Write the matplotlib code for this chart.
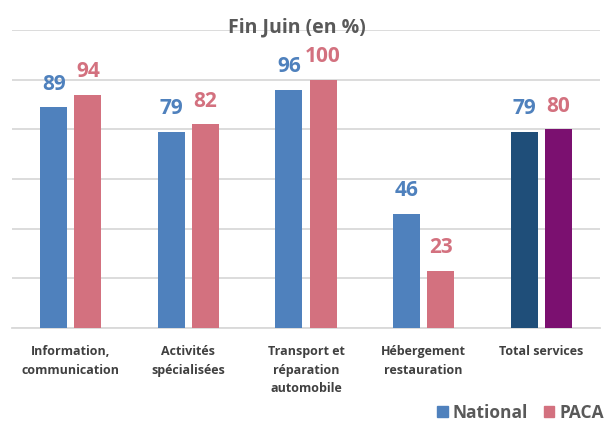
import matplotlib.pyplot as plt
import numpy as np

categories = ['Information,\ncommunication', 'Activités\nspécialisées',
              'Transport et\nréparation\nautomobile', 'Hébergement\nrestauration',
              'Total services']
national = [89, 79, 96, 46, 79]
paca = [94, 82, 100, 23, 80]

plt.rcParams['font.family'] = ['Open Sans', 'DejaVu Sans']

blue, pink = '#4F81BD', '#D3717F'
nat_colors = [blue] * 4 + ['#1F4E79']
paca_colors = [pink] * 4 + ['#7B1070']

fig = plt.figure(figsize=(6.11, 4.23), dpi=100, facecolor='white')
ax = fig.add_axes([0.0196, 0.2246, 0.9624, 0.7044])

x = np.arange(len(categories))
w = 0.23
off = 0.145
ax.bar(x - off, national, w, color=nat_colors, zorder=3)
ax.bar(x + off, paca, w, color=paca_colors, zorder=3)

for xi, v in zip(x, national):
    ax.annotate(str(v), (xi - off, v), xytext=(0, 9), textcoords='offset points',
                ha='center', va='bottom', fontsize=15, fontweight='bold', color=blue)
for xi, v in zip(x, paca):
    ax.annotate(str(v), (xi + off, v), xytext=(0, 9), textcoords='offset points',
                ha='center', va='bottom', fontsize=15, fontweight='bold', color=pink)

ax.set_xlim(-0.5, len(categories) - 0.5)
ax.set_ylim(0, 120)
ax.set_yticks(np.arange(0, 121, 20))
ax.yaxis.grid(True, color='#D9D9D9', linewidth=1.3, zorder=0)
ax.tick_params(axis='y', left=False, labelleft=False)
ax.tick_params(axis='x', bottom=False, pad=9)
ax.set_xticks(x)
ax.set_xticklabels(categories, fontsize=9, fontweight='bold', color='#404040',
                   linespacing=1.55, va='top')
for sp in ['top', 'right', 'left']:
    ax.spines[sp].set_visible(False)
ax.spines['bottom'].set_color('#D9D9D9')
ax.spines['bottom'].set_linewidth(1.3)

fig.text(0.486, 0.934, 'Fin Juin (en %)', ha='center', va='center',
         fontsize=14, fontweight='bold', color='#595959')

h1 = plt.Rectangle((0, 0), 1, 1, color=blue)
h2 = plt.Rectangle((0, 0), 1, 1, color=pink)
fig.legend([h1, h2], ['National', 'PACA'], loc='center left', bbox_to_anchor=(0.69, 0.024),
           ncol=2, frameon=False, handlelength=0.6, handleheight=0.6,
           handletextpad=0.3, columnspacing=0.9,
           prop={'size': 12.5, 'weight': 'bold'}, labelcolor='#595959')

fig.savefig('out.png', dpi=100, facecolor='white')
